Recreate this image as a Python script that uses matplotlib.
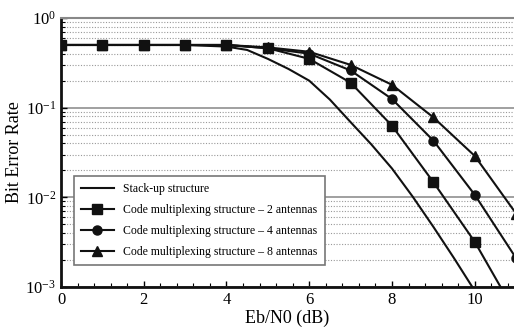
import matplotlib
matplotlib.use("Agg")
import matplotlib.pyplot as plt
import numpy as np
from matplotlib.ticker import LogLocator, MultipleLocator, NullFormatter

plt.rcParams["font.family"] = ["Liberation Serif", "DejaVu Serif"]
plt.rcParams["mathtext.fontset"] = "stix"

# stack-up curve
stack_x = [0, 1, 2, 3, 4, 4.5, 5, 5.5, 6, 6.5, 7, 7.5, 8, 8.5, 9, 9.5, 10, 10.5]
stack_ber = [0.5, 0.5, 0.5, 0.5, 0.48, 0.44, 0.35, 0.27, 0.20, 0.123, 0.069,
             0.039, 0.021, 0.0102, 0.0047, 0.0021, 0.00091, 0.00035]

snr_db = [0, 1, 2, 3, 4, 5, 6, 7, 8, 9, 10, 11]
ber_2ant = [0.5, 0.5, 0.5, 0.5, 0.5, 0.46, 0.35, 0.19, 0.063, 0.0148, 0.0032, 0.0005]
ber_4ant = [0.5, 0.5, 0.5, 0.5, 0.5, 0.46, 0.40, 0.26, 0.125, 0.043, 0.0107, 0.0021]
ber_8ant = [0.5, 0.5, 0.5, 0.5, 0.5, 0.47, 0.42, 0.30, 0.18, 0.078, 0.029, 0.0066]

labels = [
    "Stack-up structure",
    "Code multiplexing structure \u2013 2 antennas",
    "Code multiplexing structure \u2013 4 antennas",
    "Code multiplexing structure \u2013 8 antennas",
]

fig = plt.figure(figsize=(5.14, 3.33), dpi=100)
ax = fig.add_axes([0.1187, 0.138, 0.8813, 0.808])

ax.plot(stack_x, stack_ber, color="#111111", linewidth=1.5, label=labels[0])
ax.plot(snr_db, ber_2ant, color="#111111", linewidth=1.5, marker="s",
        markersize=6.5, label=labels[1])
ax.plot(snr_db, ber_4ant, color="#111111", linewidth=1.5, marker="o",
        markersize=6.5, label=labels[2])
ax.plot(snr_db, ber_8ant, color="#111111", linewidth=1.5, marker="^",
        markersize=7, label=labels[3])

ax.set_yscale("log")
ax.set_ylim(1e-3, 1)
ax.set_xlim(0, 10.95)

ax.xaxis.set_major_locator(MultipleLocator(2))
ax.xaxis.set_minor_locator(MultipleLocator(0.4))
ax.yaxis.set_major_locator(LogLocator(base=10, numticks=10))
ax.yaxis.set_minor_locator(LogLocator(base=10, subs=np.arange(2, 10), numticks=10))
ax.yaxis.set_minor_formatter(NullFormatter())

ax.grid(True, which="major", axis="y", color="#999999", linewidth=1.3)
ax.grid(True, which="minor", axis="y", color="#999999", linewidth=0.8,
        linestyle=(0, (1, 1.5)))
ax.set_axisbelow(True)

ax.tick_params(which="both", direction="in", labelsize=12, top=False, right=False)
ax.tick_params(which="major", length=4, width=1)
ax.tick_params(which="minor", length=3, width=0.8)

for side in ["left", "bottom"]:
    ax.spines[side].set_linewidth(2)
    ax.spines[side].set_color("#111111")
ax.spines["top"].set_color("#888888")
ax.spines["top"].set_linewidth(1.5)
ax.spines["right"].set_visible(False)

ax.set_xlabel("Eb/N0 (dB)", fontsize=13, labelpad=1)
ax.set_ylabel("Bit Error Rate", fontsize=13, labelpad=2)

leg = ax.legend(loc="lower left", bbox_to_anchor=(0.015, 0.06), fontsize=8.5,
                frameon=True, fancybox=False, framealpha=1, edgecolor="#777777",
                handlelength=2.8, labelspacing=0.75, borderpad=0.6)
leg.get_frame().set_linewidth(1.2)

fig.savefig("out.png", dpi=100)
